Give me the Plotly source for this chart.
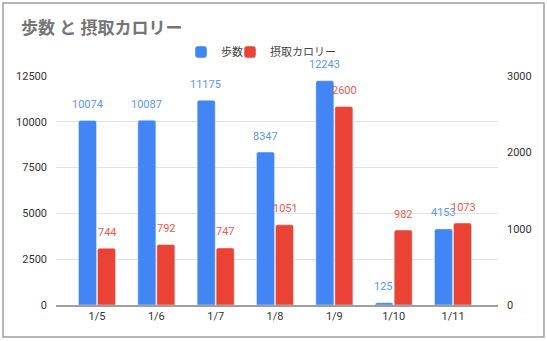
import plotly.graph_objects as go

categories = ["1/5", "1/6", "1/7", "1/8", "1/9", "1/10", "1/11"]
steps = [10074, 10087, 11175, 8347, 12243, 125, 4153]
calories = [744, 792, 747, 1051, 2600, 982, 1073]
left_ticks = [0, 2500, 5000, 7500, 10000, 12500]
left_tick_labels = ["0", "2500", "5000", "7500", "10000", "12500"]
right_ticks = [0, 1000, 2000, 3000]
right_tick_labels = ["0", "1000", "2000", "3000"]

BLUE = "#4285F4"
RED = "#EA4335"
FONT = "Roboto, Noto Sans CJK JP, Arial, sans-serif"

fig = go.Figure()
fig.add_trace(go.Bar(x=categories, y=steps, name="歩数", marker_color=BLUE,
                     offsetgroup="a", yaxis="y", legend="legend"))
fig.add_trace(go.Bar(x=categories, y=calories, name="摂取カロリー", marker_color=RED,
                     offsetgroup="b", yaxis="y2", legend="legend2"))

for c, v in zip(categories, steps):
    fig.add_annotation(x=c, y=v, xref="x", yref="y", text=str(v), showarrow=False,
                       xshift=-10, yshift=16, yanchor="middle",
                       font=dict(size=11, color="#5B97F5", family=FONT))
for c, v in zip(categories, calories):
    fig.add_annotation(x=c, y=v, xref="x", yref="y2", text=str(v), showarrow=False,
                       xshift=10, yshift=16, yanchor="middle",
                       font=dict(size=11, color="#EC5B4E", family=FONT))

L, R, T, B = 56, 49, 76, 36
W, H = 547, 341
pw, ph = W - L - R, H - T - B

def px(x):
    return (x - L) / pw

def py(y):
    return (H - B - y) / ph

fig.add_shape(type="rect", xref="paper", yref="paper",
              x0=px(3), x1=px(544), y0=py(337), y1=py(3),
              line=dict(color="#9E9E9E", width=1.5), fillcolor="rgba(0,0,0,0)", layer="below")

leg = dict(orientation="h", y=py(52), yanchor="middle", xanchor="left",
           font=dict(size=11, color="#444444"), bgcolor="rgba(0,0,0,0)")

fig.update_layout(
    width=W, height=H,
    margin=dict(l=L, r=R, t=T, b=B),
    paper_bgcolor="white", plot_bgcolor="white",
    font=dict(family=FONT, size=11, color="#444444"),
    barmode="group", bargap=0.36, bargroupgap=0.05, barcornerradius=2,
    showlegend=True,
    title=dict(text="<b>歩数 と 摂取カロリー</b>", x=21 / W, xanchor="left",
               y=1 - 28 / H, yanchor="middle", xref="container", yref="container",
               font=dict(size=17, color="#757575", family=FONT)),
    legend=dict(leg, x=px(181)),
    legend2=dict(leg, x=px(230)),
    xaxis=dict(range=[-0.691, 6.758], showgrid=False, showline=True,
               linecolor="#9E9E9E", linewidth=1.5,
               ticks="", tickfont=dict(size=11, color="#333333")),
    yaxis=dict(range=[0, 12500], tickvals=left_ticks, ticktext=left_tick_labels,
               showgrid=True, gridcolor="#E3E3E3",
               zeroline=False, ticks="", tickfont=dict(size=11, color="#333333"),
               ticklabelstandoff=8),
    yaxis2=dict(range=[0, 3000], tickvals=right_ticks, ticktext=right_tick_labels,
                overlaying="y", side="right",
                showgrid=False, zeroline=False, ticks="",
                tickfont=dict(size=11, color="#333333"), ticklabelstandoff=8),
)

fig.write_html("out.html")
